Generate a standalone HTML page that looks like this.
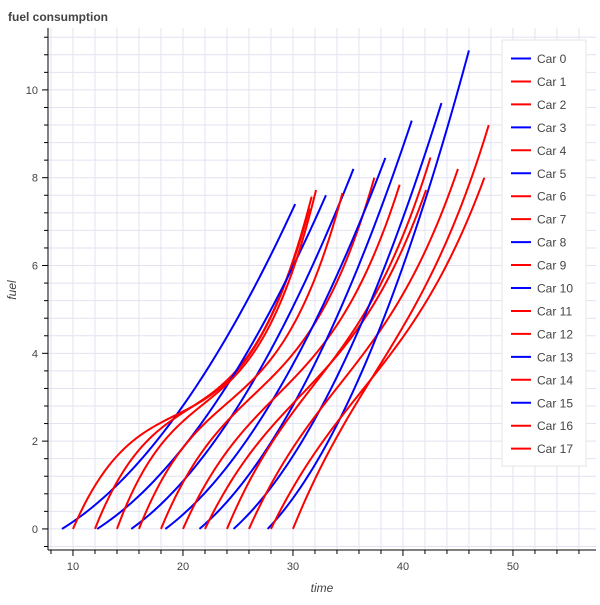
<!DOCTYPE html>
<html><head><meta charset="utf-8"><style>
body{margin:0;background:#fff;font-family:"Liberation Sans",sans-serif}
svg text{font-family:"Liberation Sans",sans-serif}
</style></head><body>
<svg id="chart" width="600" height="600" xmlns="http://www.w3.org/2000/svg">
<text x="8" y="21" font-size="12" font-weight="bold" fill="#444">fuel consumption</text>
<text x="322" y="592" font-size="12" font-style="italic" fill="#444" text-anchor="middle">time</text>
<text x="16" y="290" font-size="12" font-style="italic" fill="#444" text-anchor="middle" transform="rotate(-90 16 290)">fuel</text>
<g id="grid"></g><g id="series"></g><g id="axes"></g><g id="legend"></g>
</svg>
<script>
const carNames = ["Car 0","Car 1","Car 2","Car 3","Car 4","Car 5","Car 6","Car 7","Car 8","Car 9","Car 10","Car 11","Car 12","Car 13","Car 14","Car 15","Car 16","Car 17"];
const carColors = ["blue","red","red","blue","red","blue","red","red","blue","red","blue","red","red","blue","red","blue","red","red"];
const startTimes = [9,10,12,12.2,14,15.3,16,18,18.4,20,21.5,22,24,24.6,26,27.7,28,30];
const endTimes = [30.2,31.5,31.7,33,32.1,35.5,34.5,37.4,38.4,39.7,40.8,42.1,42.5,43.5,45,46,47.4,47.8];
const endFuel = [7.4,7.3,7.57,7.6,7.72,8.2,7.65,8.0,8.45,7.84,9.3,7.72,8.46,9.7,8.2,10.9,8.0,9.2];
const midFuelFrac = [0.36,0.38,0.39,0.36,0.4,0.36,0.41,0.42,0.36,0.43,0.36,0.44,0.44,0.36,0.45,0.36,0.45,0.45];
const redBend = [0,2.4,2.2,0,2.0,0,1.8,1.6,0,1.4,0,1.2,1.1,0,1.0,0,0.9,0.8];
const xTicks = [10,20,30,40,50];
const yTicks = [0,2,4,6,8,10];

const L=48,R=596,T=28,B=550, xMin=7.73,xMax=57.55,yMin=-0.48,yMax=11.41;
const sx=v=>L+(v-xMin)/(xMax-xMin)*(R-L);
const sy=v=>B-(v-yMin)/(yMax-yMin)*(B-T);
const NS="http://www.w3.org/2000/svg";
function mk(tag,attrs,parent){const e=document.createElementNS(NS,tag);for(const k in attrs)e.setAttribute(k,attrs[k]);parent.appendChild(e);return e;}
const grid=document.getElementById('grid'),axes=document.getElementById('axes'),series=document.getElementById('series'),legend=document.getElementById('legend');
for(let v=8;v<=57;v+=2){const g=mk('line',{x1:sx(v),x2:sx(v),y1:T,y2:B,stroke:'#e2e2f2','stroke-width':1},grid);

}
for(let i=-1;i<=28;i++){const v=i*0.4;const g=mk('line',{x1:L,x2:R,y1:sy(v),y2:sy(v),stroke:'#e2e2f2','stroke-width':1},grid);

}
mk('line',{x1:L,x2:L,y1:T,y2:B,stroke:'#000'},axes);
mk('line',{x1:L,x2:R,y1:B,y2:B,stroke:'#000'},axes);
for(let v=8;v<=57;v+=2){mk('line',{x1:sx(v),x2:sx(v),y1:B,y2:B+(v%10===0?6:4),stroke:'#000'},axes);}
for(let i=-1;i<=28;i++){const v=i*0.4;mk('line',{x1:L,x2:L-(Math.abs(v-Math.round(v/2)*2)<1e-6?6:4),y1:sy(v),y2:sy(v),stroke:'#000'},axes);}
xTicks.forEach(v=>{const t=mk('text',{x:sx(v),y:B+20,'font-size':11,fill:'#444','text-anchor':'middle'},axes);t.textContent=v;

});
yTicks.forEach(v=>{const t=mk('text',{x:L-10,y:sy(v)+4,'font-size':11,fill:'#444','text-anchor':'end'},axes);t.textContent=v;

});
carNames.forEach((n,i)=>{
  const s=startTimes[i],e=endTimes[i],F=endFuel[i],m=midFuelFrac[i];
  let g;
  if(carColors[i]==='blue'){const a=4*m-1;g=u=>a*u+(1-a)*u*u;}
  else{const c=redBend[i],a=(8*m-2+c)/2,b=1-c-a;g=u=>a*u+b*u*u+c*u*u*u;}
  let d='';
  for(let k=0;k<=60;k++){const u=k/60;d+=(k?'L':'M')+sx(s+u*(e-s)).toFixed(2)+','+sy(F*g(u)).toFixed(2);}
  const p=mk('path',{d:d,fill:'none',stroke:carColors[i],'stroke-width':2},series);
  
  
});
const box=mk('rect',{x:502,y:40,width:84,height:426,fill:'#fff',stroke:'#e5e5e5'},legend);


carNames.forEach((n,i)=>{
  const y=58.5+i*22.95;
  const ln=mk('line',{x1:511,x2:531,y1:y,y2:y,stroke:carColors[i],'stroke-width':2},legend);
  
  
  const t=mk('text',{x:537,y:y+4.5,'font-size':12,fill:'#444'},legend);t.textContent=n;
  
  
});
</script>
</body></html>
